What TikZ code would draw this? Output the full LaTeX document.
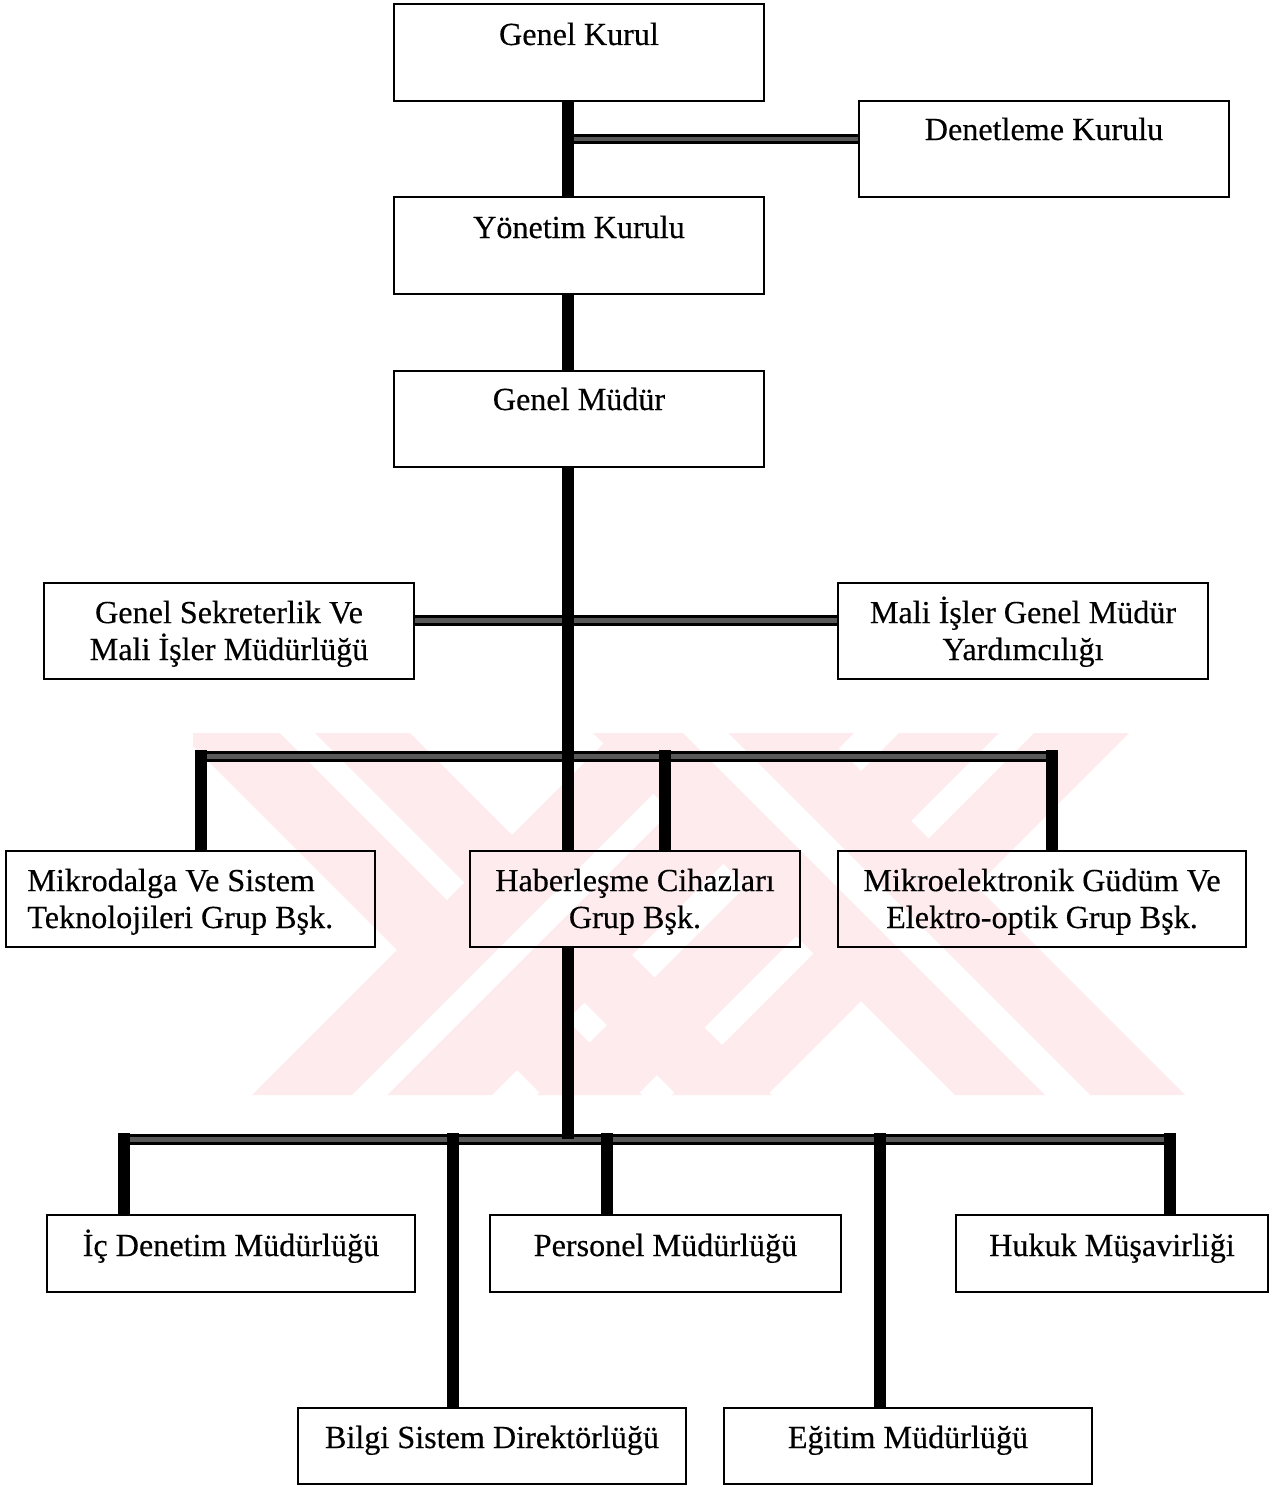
\documentclass[tikz,border=0pt]{standalone}
\usepackage{fontspec}
\setmainfont{Liberation Serif}
\newfontfamily\labelfont{Liberation Serif}[FakeBold=0.35]
\definecolor{wmpink}{RGB}{253,235,238}
\begin{document}
\begin{tikzpicture}[x=0.02cm, y=-0.02cm,
  box/.style={draw=black, line width=1.3pt, inner sep=0pt, minimum width=7.4cm, minimum height=1.93cm},
  txt/.style={font=\labelfont\fontsize{18.3}{21}\selectfont, align=center, anchor=base, inner sep=0pt},
  vline/.style={draw=black, line width=0.24cm},
  hline/.style={draw=black, double=black!65, double distance=0.1cm, line width=0.06cm}]
\useasboundingbox (0,0) rectangle (1274,1487);

% background seal: two crossed bands, each split by a thin gap
\begin{scope}
  \clip (193,733) rectangle (1195,1095);
  % left cross: falling strips, then rising band on top with its gap
  \foreach \a/\b in {180/280, 315/410}
    \fill[wmpink] (\a,733) -- (\b,733) -- (\b+362,1095) -- (\a+362,1095) -- cycle;
  \fill[wmpink] (252,1095) -- (492,1095) -- (854,733) -- (614,733) -- cycle;
  \fill[white] (352,1095) -- (387,1095) -- (749,733) -- (714,733) -- cycle;
  % right cross: rising strips, then falling band on top with its gap
  \foreach \a/\b in {537/637, 672/767}
    \fill[wmpink] (\a,1095) -- (\b,1095) -- (\b+362,733) -- (\a+362,733) -- cycle;
  \fill[wmpink] (593,733) -- (823,733) -- (1185,1095) -- (955,1095) -- cycle;
  \fill[white] (683,733) -- (728,733) -- (1090,1095) -- (1045,1095) -- cycle;
\end{scope}

% boxes
\node[box] (gk) at (579,52.5) {};
\node[box, minimum height=1.92cm] (dk) at (1044,149) {};
\node[box] (yk) at (579,245.5) {};
\node[box, minimum height=1.92cm] (gm) at (579,419) {};
\node[box, minimum height=1.92cm] (gs) at (229,631) {};
\node[box, minimum height=1.92cm] (mi) at (1023,631) {};
\node[box, minimum width=7.38cm, minimum height=1.92cm] (mk) at (190.5,899) {};
\node[box, minimum width=6.6cm, minimum height=1.92cm] (hc) at (635,899) {};
\node[box, minimum width=8.16cm, minimum height=1.92cm] (me) at (1042,899) {};
\node[box, minimum width=7.36cm, minimum height=1.54cm] (id) at (231,1253.5) {};
\node[box, minimum width=7.02cm, minimum height=1.54cm] (pm) at (665.5,1253.5) {};
\node[box, minimum width=6.24cm, minimum height=1.54cm] (hm) at (1112,1253.5) {};
\node[box, minimum width=7.76cm, minimum height=1.52cm] (bs) at (492,1446) {};
\node[box, minimum width=7.36cm, minimum height=1.52cm] (em) at (908,1446) {};

% labels (two-line labels sit on the baseline of their last line)
\node[txt] (gkt) at (579,45) {Genel Kurul};
\node[txt] (dkt) at (1044,140) {Denetleme Kurulu};
\node[txt] (ykt) at (579,238) {Yönetim Kurulu};
\node[txt] (gmt) at (579,410) {Genel Müdür};
\node[txt] (gst) at (229,660) {Genel Sekreterlik Ve\\Mali İşler Müdürlüğü};
\node[txt] (mit) at (1023,660) {Mali İşler Genel Müdür\\Yardımcılığı};
\node[txt, align=left, anchor=base west] (mkt) at (27,928) {Mikrodalga Ve Sistem\\Teknolojileri Grup Bşk.};
\node[txt] (hct) at (635,928) {Haberleşme Cihazları\\Grup Bşk.};
\node[txt] (met) at (1042,928) {Mikroelektronik Güdüm Ve\\Elektro-optik Grup Bşk.};
\node[txt] (idt) at (231,1256) {İç Denetim Müdürlüğü};
\node[txt] (pmt) at (665.5,1256) {Personel Müdürlüğü};
\node[txt] (hmt) at (1112,1256) {Hukuk Müşavirliği};
\node[txt] (bst) at (492,1448) {Bilgi Sistem Direktörlüğü};
\node[txt] (emt) at (908,1448) {Eğitim Müdürlüğü};

% junction points
\coordinate (tr) at (568,0);
\coordinate (j1) at (568,139);
\coordinate (j2) at (568,620);
\coordinate (b1l) at (195,756);
\coordinate (b1r) at (1058,756);
\coordinate (b2l) at (118,1139);
\coordinate (b2r) at (1176,1139);
\coordinate (v1) at (201,750);
\coordinate (v2) at (665,750);
\coordinate (v3) at (1052,750);
\coordinate (w1) at (124,1133);
\coordinate (w2) at (453,1133);
\coordinate (w3) at (607,1133);
\coordinate (w4) at (880,1133);
\coordinate (w5) at (1170,1133);

% horizontal connectors
\draw[hline] (j1) -- (j1 -| dk.west);
\draw[hline] (gs.east |- j2) -- (j2 -| mi.west);
\draw[hline] (b1l) -- (b1r);
\draw[hline] (b2l) -- (b2r);

% vertical connectors
\draw[vline] (gk.south -| tr) -- (yk.north -| tr);
\draw[vline] (yk.south -| tr) -- (gm.north -| tr);
\draw[vline] (gm.south -| tr) -- (hc.north -| tr);
\draw[vline] (hc.south -| tr) -- (tr |- b2l);
\draw[vline] (v1) -- (v1 |- mk.north);
\draw[vline] (v2) -- (v2 |- hc.north);
\draw[vline] (v3) -- (v3 |- me.north);
\draw[vline] (w1) -- (w1 |- id.north);
\draw[vline] (w2) -- (w2 |- bs.north);
\draw[vline] (w3) -- (w3 |- pm.north);
\draw[vline] (w4) -- (w4 |- em.north);
\draw[vline] (w5) -- (w5 |- hm.north);
\end{tikzpicture}
\end{document}
